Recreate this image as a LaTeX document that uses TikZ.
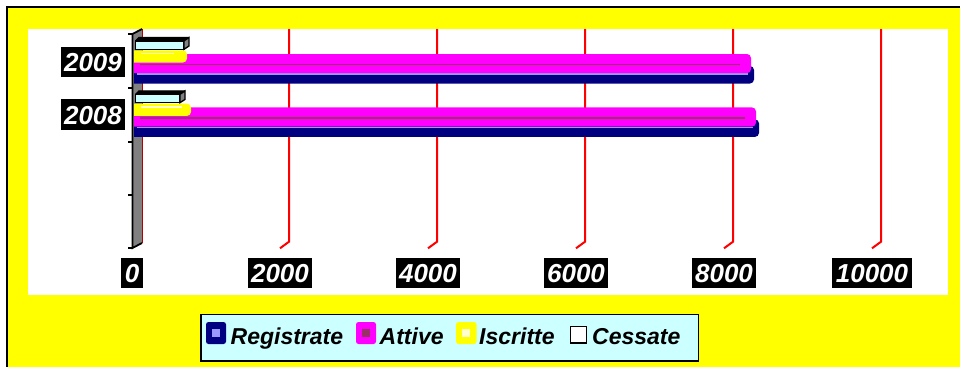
\documentclass[tikz,border=0pt]{standalone}
\usepackage{fontspec}
\setmainfont{Liberation Sans}
\definecolor{navyc}{HTML}{000080}
\definecolor{magc}{HTML}{FF00FF}
\definecolor{yelc}{HTML}{FFFF00}
\definecolor{cyanc}{HTML}{CCFFFF}
\definecolor{plumc}{HTML}{993366}
\definecolor{lblue}{HTML}{9999FF}
\definecolor{lyel}{HTML}{FFFFCC}
\definecolor{gridred}{HTML}{FF0000}
\definecolor{wallgray}{HTML}{808080}
\begin{document}
\begin{tikzpicture}[x=1pt,y=-1pt,
  axlab/.style={fill=black,text=white,font=\fontsize{26}{26}\selectfont\bfseries\itshape,
    inner xsep=3.5pt,inner ysep=0pt,text height=18.6pt,text depth=0pt,minimum height=30.5pt},
  legtext/.style={font=\fontsize{23}{23}\selectfont\bfseries\itshape,anchor=base west,inner sep=0pt},
  gridline/.style={gridred,line width=2pt},
  keybox/.style={rounded corners=2.5pt}]
\useasboundingbox (0,0) rectangle (960,367);
\fill[white] (0,0) rectangle (960,367);
% chart area
\fill[yelc] (7,7) rectangle (960,367);
\draw[line width=1.8pt] (7,367) -- (7,7) -- (960,7);
\fill[white] (28,29) rectangle (948,295);
% gridlines
\foreach \gx in {289,437,585,733,881}
  \draw[gridline] (\gx,29) -- (\gx,241.7) -- ({\gx-9},248.3);
% wall
\fill[wallgray] (133,34) -- (142,29) -- (142,243) -- (133,248) -- cycle;
\draw[red!70!black,line width=0.8pt] (142,29) -- (142,243);
\draw[line width=1.8pt] (142,29) -- (132.5,34) -- (132.5,248) -- (142,243);
\foreach \ty in {34,88,142,195,248}
  \draw[line width=1.6pt] (128,\ty) -- (132.5,\ty);
% bars
\foreach \dy/\nv/\mg/\yl/\cs/\ylh in {0/754/751/187/189/174, 53.4/759/756/191/185/182}{
  \begin{scope}[yshift={-\dy pt}]
    \clip (134,0) rectangle (960,367);
    \fill[navyc,rounded corners=4pt] (126,66) rectangle (\nv,83.5);
    \draw[lblue,line width=1.5pt] (137,74) -- ({\nv-6},74);
    \fill[magc,rounded corners=4pt] (126,54) rectangle (\mg,73.2);
    \draw[plumc,line width=1.6pt] (140,64.3) -- ({\mg-11},64.3);
    \fill[yelc,rounded corners=4pt] (126,50.3) rectangle (\yl,62.5);
    \draw[lyel,line width=1.5pt] (141,53.7) -- (\ylh,53.7);
    % cessate 3D bar
    \fill[black] (135,41) -- (139,37.5) -- (\cs,37.5) -- ({\cs-5},41) -- cycle;
    \filldraw[fill=cyanc,draw=black,line width=1.3pt] (135.6,41) rectangle ({\cs-5},49.3);
    \filldraw[fill=wallgray,draw=black,line width=1.3pt] ({\cs-5},41) -- (\cs,37.5) -- (\cs,46) -- ({\cs-5},49.3) -- cycle;
    \draw[black,line width=1.3pt] (135.6,41) -- (139,37.5) -- (\cs,37.5);
  \end{scope}
}
% category labels
\node[axlab] (y2009) at (93,62) {2009};
\node[axlab] (y2008) at (93,114.7) {2008};
% value labels
\node[axlab] (v0) at (132,273) {0};
\node[axlab] (v2000) at (280,273) {2000};
\node[axlab] (v4000) at (428,273) {4000};
\node[axlab] (v6000) at (576,273) {6000};
\node[axlab] (v8000) at (724,273) {8000};
\node[axlab] (v10000) at (872,273) {10000};
% legend
\node[draw,line width=1.6pt,fill=cyanc,minimum width=497.6pt,minimum height=46.4pt,inner sep=0pt] (leg) at (449.5,337.5) {};
\fill[navyc,keybox] (206,322) rectangle (226,344);
\fill[lblue] (212,329) rectangle (219.5,337);
\node[legtext] (tReg) at (230.5,344.5) {Registrate};
\fill[magc,keybox] (356,322) rectangle (376,344);
\fill[plumc] (362,329) rectangle (369.5,337);
\node[legtext] (tAtt) at (379.5,344.5) {Attive};
\fill[yelc,keybox] (456,322) rectangle (476.5,344);
\fill[lyel] (462,329) rectangle (469.5,337);
\node[legtext] (tIsc) at (479,344.5) {Iscritte};
\draw[line width=1.5pt,fill=white] (570.5,326.5) rectangle (586.5,343);
\node[legtext] (tCes) at (592,344.5) {Cessate};
\end{tikzpicture}
\end{document}
